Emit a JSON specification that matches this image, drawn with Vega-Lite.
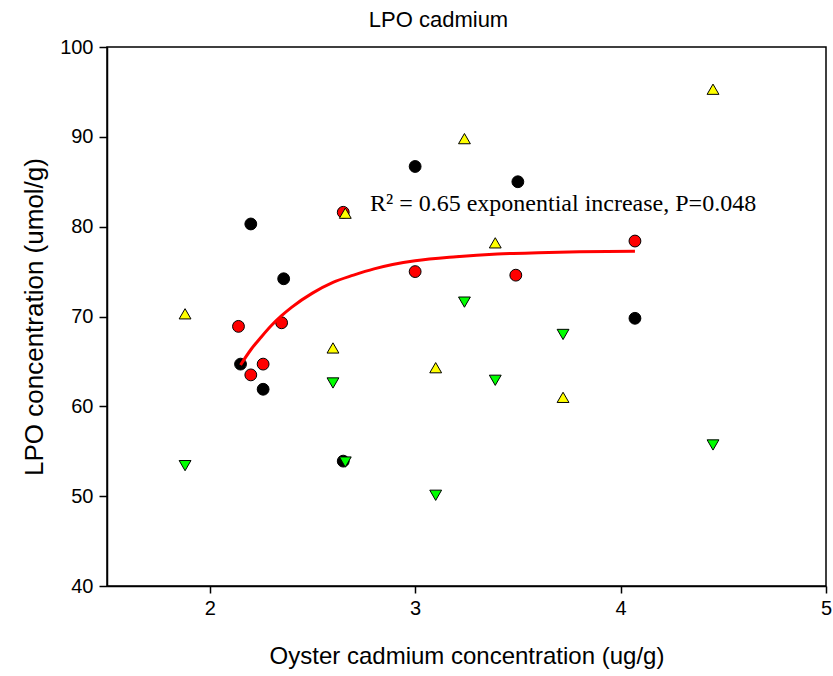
{
  "$schema": "https://vega.github.io/schema/vega-lite/v6.json",
  "width": 719,
  "height": 539,
  "autosize": "none",
  "padding": {"left": 107, "top": 47, "right": 7, "bottom": 90},
  "background": "white",
  "config": {
    "view": {"stroke": "black", "strokeWidth": 1.5},
    "font": "Liberation Sans",
    "axis": {"grid": false, "domainColor": "black", "domainWidth": 1.5, "tickColor": "black", "tickWidth": 1.5, "labelColor": "black", "titleColor": "black", "labelFont": "Liberation Sans", "titleFont": "Liberation Sans", "titleFontWeight": "normal"}
  },
  "title": {"text": "LPO cadmium", "fontSize": 22, "fontWeight": "normal", "font": "Liberation Sans", "color": "black", "offset": 5, "dx": -28},
  "datasets": {
    "points": [
      {"cd": 2.20, "lpo": 80.3, "group": "A"},
      {"cd": 2.36, "lpo": 74.2, "group": "A"},
      {"cd": 2.15, "lpo": 64.7, "group": "A"},
      {"cd": 2.26, "lpo": 61.9, "group": "A"},
      {"cd": 3.00, "lpo": 86.7, "group": "A"},
      {"cd": 3.50, "lpo": 85.0, "group": "A"},
      {"cd": 4.07, "lpo": 69.8, "group": "A"},
      {"cd": 2.65, "lpo": 53.9, "group": "A"},
      {"cd": 2.14, "lpo": 68.9, "group": "B"},
      {"cd": 2.20, "lpo": 63.5, "group": "B"},
      {"cd": 2.26, "lpo": 64.7, "group": "B"},
      {"cd": 2.35, "lpo": 69.3, "group": "B"},
      {"cd": 2.65, "lpo": 81.6, "group": "B"},
      {"cd": 3.00, "lpo": 75.0, "group": "B"},
      {"cd": 3.49, "lpo": 74.6, "group": "B"},
      {"cd": 4.07, "lpo": 78.4, "group": "B"},
      {"cd": 1.88, "lpo": 70.3, "group": "C"},
      {"cd": 2.60, "lpo": 66.5, "group": "C"},
      {"cd": 2.66, "lpo": 81.5, "group": "C"},
      {"cd": 3.10, "lpo": 64.3, "group": "C"},
      {"cd": 3.24, "lpo": 89.8, "group": "C"},
      {"cd": 3.39, "lpo": 78.2, "group": "C"},
      {"cd": 3.72, "lpo": 61.0, "group": "C"},
      {"cd": 4.45, "lpo": 95.3, "group": "C"},
      {"cd": 1.88, "lpo": 53.4, "group": "D"},
      {"cd": 2.60, "lpo": 62.6, "group": "D"},
      {"cd": 2.66, "lpo": 53.8, "group": "D"},
      {"cd": 3.10, "lpo": 50.1, "group": "D"},
      {"cd": 3.24, "lpo": 71.6, "group": "D"},
      {"cd": 3.39, "lpo": 62.9, "group": "D"},
      {"cd": 3.72, "lpo": 68.0, "group": "D"},
      {"cd": 4.45, "lpo": 55.7, "group": "D"}
    ],
    "fit": [
      {"cd": 2.15, "lpo": 64.6},
      {"cd": 2.20, "lpo": 66.3},
      {"cd": 2.25, "lpo": 67.7},
      {"cd": 2.30, "lpo": 69.0},
      {"cd": 2.35, "lpo": 70.1},
      {"cd": 2.40, "lpo": 71.05},
      {"cd": 2.50, "lpo": 72.6},
      {"cd": 2.60, "lpo": 73.8},
      {"cd": 2.70, "lpo": 74.6},
      {"cd": 2.80, "lpo": 75.3},
      {"cd": 3.00, "lpo": 76.2},
      {"cd": 3.20, "lpo": 76.65},
      {"cd": 3.40, "lpo": 76.95},
      {"cd": 3.60, "lpo": 77.1},
      {"cd": 3.80, "lpo": 77.2},
      {"cd": 4.07, "lpo": 77.25}
    ],
    "note": [
      {"cd": 2.78, "lpo": 81.7, "label": "R² = 0.65 exponential increase, P=0.048"}
    ]
  },
  "layer": [
    {
      "data": {"name": "points"},
      "mark": {"type": "point", "filled": true, "stroke": "black", "strokeWidth": 1, "opacity": 1},
      "encoding": {
        "x": {"field": "cd", "type": "quantitative", "scale": {"domain": [1.5, 5], "nice": false, "zero": false},
              "axis": {"title": "Oyster cadmium concentration (ug/g)", "values": [2, 3, 4, 5], "format": "d", "tickSize": 7, "labelFontSize": 20, "labelPadding": 5, "titleFontSize": 24, "titlePadding": 26, "labelFlush": false}},
        "y": {"field": "lpo", "type": "quantitative", "scale": {"domain": [40, 100], "nice": false, "zero": false},
              "axis": {"title": "LPO concentration (umol/g)", "values": [40, 50, 60, 70, 80, 90, 100], "tickSize": 8, "labelFontSize": 20, "labelPadding": 6, "titleFontSize": 26, "titlePadding": 12, "labelFlush": false}},
        "shape": {"field": "group", "type": "nominal", "scale": {"domain": ["A", "B", "C", "D"], "range": ["circle", "circle", "triangle-up", "triangle-down"]}, "legend": null},
        "fill": {"field": "group", "type": "nominal", "scale": {"domain": ["A", "B", "C", "D"], "range": ["#000000", "#ff0000", "#ffff00", "#00ff00"]}, "legend": null},
        "size": {"field": "group", "type": "nominal", "scale": {"domain": ["A", "B", "C", "D"], "range": [140, 140, 190, 190]}, "legend": null}
      }
    },
    {
      "data": {"name": "fit"},
      "mark": {"type": "line", "color": "#ff0000", "strokeWidth": 3, "interpolate": "monotone"},
      "encoding": {
        "x": {"field": "cd", "type": "quantitative"},
        "y": {"field": "lpo", "type": "quantitative"}
      }
    },
    {
      "data": {"name": "note"},
      "mark": {"type": "text", "font": "Liberation Serif", "fontSize": 24, "align": "left", "baseline": "alphabetic", "color": "black"},
      "encoding": {
        "x": {"field": "cd", "type": "quantitative"},
        "y": {"field": "lpo", "type": "quantitative"},
        "text": {"field": "label"}
      }
    }
  ]
}
